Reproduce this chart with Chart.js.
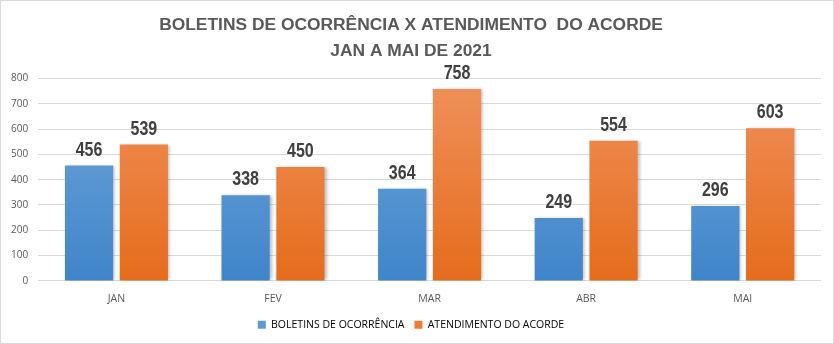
<!DOCTYPE html>
<html>
<head>
<meta charset="utf-8">
<script src="https://cdn.jsdelivr.net/npm/chart.js@4"></script>
<style>
  html, body { margin: 0; padding: 0; background: #fff; }
  #wrap { width: 834px; height: 344px; box-sizing: border-box; border: 1px solid #d9d9d9; position: relative; }
</style>
</head>
<body>
<div id="wrap"><canvas id="chart"></canvas></div>
<script>
const months = ['JAN', 'FEV', 'MAR', 'ABR', 'MAI']
const boletins = [456, 338, 364, 249, 296]
const atendimentos = [539, 450, 758, 554, 603]
const yTicks = [0, 100, 200, 300, 400, 500, 600, 700, 800]

const gradient = (ctx, top, bottom) => {
  const area = ctx.chart.chartArea
  if (!area) return bottom
  const g = ctx.chart.ctx.createLinearGradient(0, area.top, 0, area.bottom)
  g.addColorStop(0, top)
  g.addColorStop(1, bottom)
  return g
}

// value labels above each bar, squeezed horizontally like a narrow face
const valueLabels = {
  id: 'valueLabels',
  afterDatasetsDraw(chart) {
    const c = chart.ctx
    chart.data.datasets.forEach((ds, i) => {
      chart.getDatasetMeta(i).data.forEach((bar, j) => {
        c.save()
        c.translate(bar.x, bar.y - 10)
        c.scale(0.8, 1)
        c.font = 'bold 20px "Liberation Sans", Arial, sans-serif'
        c.fillStyle = '#404040'
        c.textAlign = 'center'
        c.textBaseline = 'alphabetic'
        c.fillText(ds.data[j], 0, 0)
        c.restore()
      })
    })
  }
}

// soft shadow to the right of the bars
const barShadow = {
  id: 'barShadow',
  beforeDatasetsDraw(chart) {
    const c = chart.ctx
    c.save()
    c.shadowColor = 'rgba(0,0,0,0.25)'
    c.shadowBlur = 3
    c.shadowOffsetX = 2
    c.shadowOffsetY = 0
  },
  afterDatasetsDraw(chart) {
    chart.ctx.restore()
  }
}

new Chart(document.getElementById('chart'), {
  type: 'bar',
  data: {
    labels: months,
    datasets: [
      {
        label: 'BOLETINS DE OCORRÊNCIA',
        data: boletins,
        backgroundColor: ctx => gradient(ctx, '#71a6dc', '#3f85c9'),
      },
      {
        label: 'ATENDIMENTO DO ACORDE',
        data: atendimentos,
        backgroundColor: ctx => gradient(ctx, '#f0915c', '#e56c1c'),
      },
    ],
  },
  options: {
    responsive: true,
    maintainAspectRatio: false,
    animation: false,
    layout: { padding: { left: 0, right: 12, top: 2, bottom: 3 } },
    datasets: { bar: { categoryPercentage: 0.7, barPercentage: 0.88 } },
    plugins: {
      title: {
        display: true,
        text: ['BOLETINS DE OCORRÊNCIA X ATENDIMENTO  DO ACORDE', 'JAN A MAI DE 2021'],
        color: '#595959',
        font: { family: '"Liberation Sans", Arial, sans-serif', size: 17.4, weight: 'bold', lineHeight: 1.45 },
        padding: { top: 10, bottom: 15 },
      },
      legend: {
        position: 'bottom',
        labels: {
          color: '#595959',
          font: { family: '"Open Sans", sans-serif', size: 10.5 },
          boxWidth: 8,
          boxHeight: 8,
          padding: 10,
          generateLabels: chart => chart.data.datasets.map((ds, i) => ({
            text: ds.label,
            fillStyle: i === 0 ? '#5b9bd5' : '#ed7d31',
            strokeStyle: 'transparent',
            lineWidth: 0,
            datasetIndex: i,
          })),
        },
      },
      tooltip: { enabled: false },
    },
    scales: {
      x: {
        grid: { display: false },
        border: { display: false },
        ticks: { color: '#595959', padding: 4, font: { family: '"Open Sans", sans-serif', size: 10.5 } },
      },
      y: {
        min: 0,
        max: 800,
        afterBuildTicks: axis => { axis.ticks = yTicks.map(v => ({ value: v })) },
        grid: { color: '#d9d9d9', drawTicks: false },
        border: { display: false },
        ticks: { color: '#595959', padding: 10, font: { family: '"Open Sans", sans-serif', size: 10 } },
      },
    },
  },
  plugins: [barShadow, valueLabels],
})
</script>
</body>
</html>
